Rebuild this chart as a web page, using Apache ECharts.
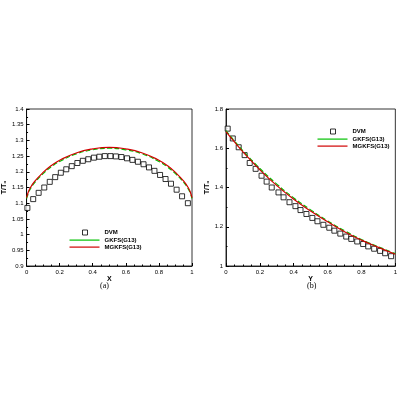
<!DOCTYPE html>
<html><head><meta charset="utf-8">
<script src="https://cdn.jsdelivr.net/npm/echarts@6/dist/echarts.min.js"></script>
<style>html,body{margin:0;background:#fff}#c{width:400px;height:400px}</style>
</head><body><div id="c"></div>
<script>
// (a) T/T0 along X
var dvmAX = [0.005,0.04,0.073,0.107,0.14,0.173,0.207,0.24,0.273,0.307,0.34,0.373,0.407,0.44,0.473,0.507,0.54,0.573,0.607,0.64,0.673,0.707,0.74,0.773,0.807,0.84,0.873,0.907,0.94,0.975];
var dvmAY = [1.085,1.113,1.133,1.15,1.168,1.183,1.197,1.208,1.218,1.228,1.235,1.24,1.245,1.248,1.25,1.25,1.249,1.247,1.243,1.238,1.232,1.224,1.214,1.203,1.19,1.177,1.162,1.143,1.122,1.1];
var lineAX = [0,0.01,0.02,0.05,0.1,0.15,0.2,0.3,0.4,0.5,0.6,0.7,0.8,0.85,0.9,0.95,0.98,0.99,1];
var mgkfsAY = [1.118,1.135,1.147,1.17,1.198,1.22,1.237,1.26,1.273,1.278,1.273,1.26,1.237,1.22,1.198,1.17,1.147,1.135,1.118];
var gkfsAY = [1.115,1.131,1.143,1.166,1.194,1.216,1.233,1.257,1.27,1.275,1.27,1.257,1.233,1.216,1.194,1.166,1.143,1.131,1.115];
// (b) T/T0 along Y
var dvmBX = [0.01,0.04,0.075,0.11,0.14,0.175,0.21,0.24,0.27,0.31,0.34,0.375,0.41,0.44,0.475,0.51,0.54,0.575,0.61,0.64,0.675,0.71,0.74,0.775,0.81,0.84,0.875,0.91,0.94,0.975];
var dvmBY = [1.7,1.65,1.605,1.565,1.525,1.495,1.46,1.43,1.4,1.375,1.35,1.325,1.305,1.285,1.265,1.245,1.228,1.21,1.195,1.18,1.165,1.15,1.138,1.125,1.112,1.1,1.088,1.077,1.065,1.05];
var lineBX = [0,0.05,0.1,0.2,0.3,0.4,0.5,0.6,0.7,0.8,0.9,1];
var mgkfsBY = [1.685,1.632,1.582,1.49,1.41,1.34,1.28,1.225,1.175,1.132,1.095,1.06];
var gkfsBY = [1.69,1.637,1.587,1.497,1.417,1.347,1.286,1.23,1.18,1.135,1.098,1.063];

function zip(a, b) { return a.map(function (v, i) { return [v, b[i]]; }); }

var lbl = { fontSize: 6, color: '#000', fontFamily: 'Liberation Sans' };
function xAx(idx, name) {
  return { gridIndex: idx, type: 'value', min: 0, max: 1, interval: 0.2,
    name: name, nameLocation: 'middle', nameGap: 9,
    nameTextStyle: { fontSize: 7, fontWeight: 'bold', color: '#000' },
    axisLine: { lineStyle: { color: '#000', width: 0.8 } },
    axisTick: { inside: true, length: 3, lineStyle: { color: '#000' } },
    minorTick: { show: true, splitNumber: 4, length: 1.5, lineStyle: { color: '#000' } },
    axisLabel: Object.assign({ margin: 3 }, lbl), splitLine: { show: false } };
}
function yAx(idx, min, max, iv, dec) {
  return { gridIndex: idx, type: 'value', min: min, max: max, interval: iv,
    name: 'T/T\u2080', nameLocation: 'middle', nameGap: dec > 1 ? 17 : 13,
    nameTextStyle: { fontSize: 7, fontWeight: 'bold', color: '#000' },
    axisLine: { lineStyle: { color: '#000', width: 0.8 } },
    axisTick: { inside: true, length: 3, lineStyle: { color: '#000' } },
    minorTick: { show: true, splitNumber: 2, length: 1.5, lineStyle: { color: '#000' } },
    axisLabel: Object.assign({ margin: 3, formatter: function (v) { return +v.toFixed(dec) + ''; } }, lbl),
    splitLine: { show: false } };
}
function dvm(idx, name, d) {
  return { name: name, type: 'scatter', xAxisIndex: idx, yAxisIndex: idx, data: d,
    symbol: 'rect', symbolSize: 5,
    itemStyle: { color: '#fff', borderColor: '#000', borderWidth: 1 } };
}
function ln(idx, name, d, color, dash) {
  return { name: name, type: 'line', xAxisIndex: idx, yAxisIndex: idx, data: d,
    smooth: true, symbol: 'none', showSymbol: false, color: color,
    lineStyle: { color: color, width: 1.2, type: dash } };
}
var sqIcon = 'path://M0,0M30,6M13,0.5h5v5h-5z';
var lnIcon = 'path://M0,0M30,6M0,2.5h30v1.2h-30z';
function leg(left, top, names) {
  return { left: left, top: top, orient: 'vertical', itemGap: 1,
    itemWidth: 30, itemHeight: 6, textStyle: { fontSize: 6, fontWeight: 'bold', color: '#000' },
    data: [
      { name: names[0], icon: sqIcon, itemStyle: { color: '#fff', borderColor: '#000', borderWidth: 1 } },
      { name: names[1], icon: lnIcon, itemStyle: { color: '#00c000', borderWidth: 0 } },
      { name: names[2], icon: lnIcon, itemStyle: { color: '#d00000', borderWidth: 0 } }
    ] };
}

var chart = echarts.init(document.getElementById('c'));
chart.setOption({
  animation: false,
  grid: [
    { left: 20, right: 208, top: 109, bottom: 134, show: true, borderColor: '#000', borderWidth: 0.8 },
    { left: 226, right: 2, top: 109, bottom: 134, show: true, borderColor: '#000', borderWidth: 0.8 }
  ],
  xAxis: [xAx(0, 'X'), xAx(1, 'Y')],
  yAxis: [yAx(0, 0.9, 1.4, 0.05, 2), yAx(1, 1, 1.8, 0.2, 1)],
  legend: [
    leg(64, 224, ['DVM', 'GKFS(G13)', 'MGKFS(G13)']),
    leg(312, 123, ['DVM ', 'GKFS(G13) ', 'MGKFS(G13) '])
  ],
  series: [
    dvm(0, 'DVM', zip(dvmAX, dvmAY)),
    ln(0, 'GKFS(G13)', zip(lineAX, gkfsAY), '#00c000', 'dashed'),
    ln(0, 'MGKFS(G13)', zip(lineAX, mgkfsAY), '#d00000', 'solid'),
    dvm(1, 'DVM ', zip(dvmBX, dvmBY)),
    ln(1, 'GKFS(G13) ', zip(lineBX, gkfsBY), '#00c000', 'dashed'),
    ln(1, 'MGKFS(G13) ', zip(lineBX, mgkfsBY), '#d00000', 'solid')
  ],
  graphic: [
    { type: 'text', left: 100, top: 282, style: { text: '(a)', fontSize: 8, fontFamily: 'Liberation Serif', fill: '#000' } },
    { type: 'text', left: 307, top: 282, style: { text: '(b)', fontSize: 8, fontFamily: 'Liberation Serif', fill: '#000' } }
  ]
});
</script>
</body></html>
